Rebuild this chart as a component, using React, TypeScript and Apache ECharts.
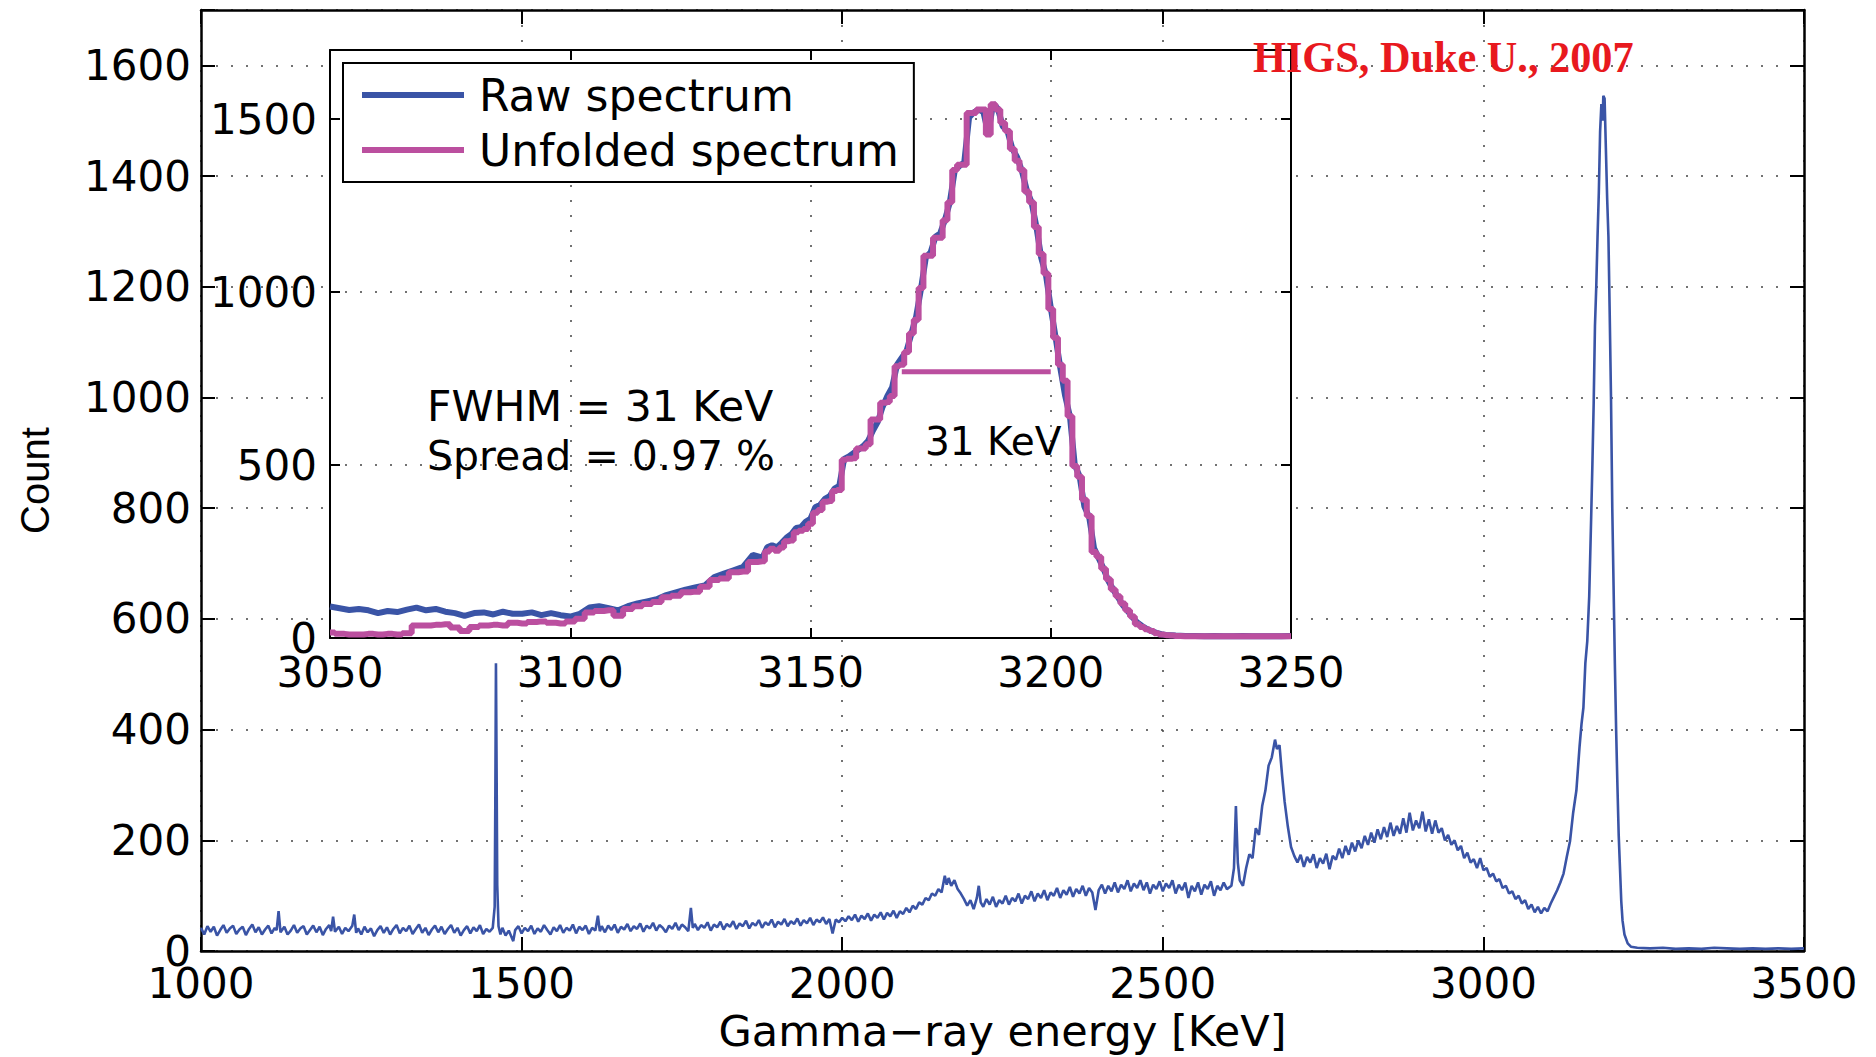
import React, { useEffect, useRef } from "react";
import * as echarts from "echarts";

// ---------------- Main spectrum (Energy keV, Count) ----------------
const mainBackground = [
  [1000, 42], [1005, 30], [1010, 45], [1015, 35], [1020, 44], [1025, 28], [1030, 38], [1035, 47],
  [1040, 33], [1045, 41], [1050, 46], [1055, 31], [1060, 39], [1065, 44], [1070, 29], [1075, 40],
  [1080, 48], [1085, 34], [1090, 43], [1095, 30], [1100, 39], [1105, 46], [1110, 32], [1115, 42],
  [1118, 38], [1121, 72], [1124, 34], [1130, 44], [1135, 30], [1140, 37], [1145, 47], [1150, 33],
  [1155, 41], [1160, 45], [1165, 30], [1170, 38], [1175, 46], [1180, 34], [1185, 44], [1190, 29],
  [1195, 40], [1200, 47], [1203, 36], [1206, 62], [1209, 35], [1215, 44], [1220, 31], [1225, 42],
  [1230, 36], [1236, 46], [1239, 66], [1242, 33], [1245, 41], [1250, 30], [1255, 44], [1260, 34],
  [1265, 41], [1270, 27], [1275, 38], [1280, 45], [1285, 33], [1290, 43], [1295, 30], [1300, 40],
  [1305, 47], [1310, 32], [1315, 42], [1320, 36], [1325, 46], [1330, 31], [1335, 40], [1340, 48],
  [1345, 33], [1350, 42], [1355, 29], [1360, 39], [1365, 46], [1370, 34], [1375, 44], [1380, 31],
  [1385, 40], [1390, 47], [1395, 33], [1400, 42], [1405, 28], [1410, 38], [1415, 45], [1420, 32],
  [1425, 43], [1430, 36], [1435, 47], [1440, 31], [1445, 40], [1450, 35], [1455, 42],
];
const mainLine1460 = [[1458, 80], [1459, 270], [1460, 520], [1461, 330], [1462, 120], [1464, 45]];
const mainMid = [
  [1467, 30], [1470, 42], [1475, 28], [1480, 37], [1487, 18], [1490, 38], [1495, 45], [1500, 32],
  [1505, 42], [1510, 36], [1515, 46], [1520, 31], [1525, 41], [1530, 35], [1535, 47], [1540, 38],
  [1545, 30], [1550, 43], [1555, 36], [1560, 47], [1565, 33], [1570, 42], [1575, 37], [1580, 48],
  [1585, 32], [1590, 44], [1595, 38], [1600, 46], [1605, 31], [1610, 42], [1615, 37], [1619, 64],
  [1622, 36], [1625, 45], [1630, 34], [1635, 46], [1640, 38], [1645, 48], [1650, 33], [1655, 44],
  [1660, 39], [1665, 49], [1670, 36], [1675, 45], [1680, 40], [1685, 50], [1690, 35], [1695, 46],
  [1700, 41], [1705, 51], [1710, 37], [1715, 47], [1720, 42], [1725, 34], [1730, 46], [1735, 40],
  [1740, 51], [1745, 38], [1750, 48], [1755, 43], [1760, 36], [1764, 78], [1767, 42], [1770, 49],
  [1775, 38], [1780, 47], [1785, 42], [1790, 52], [1795, 37], [1800, 48], [1805, 43], [1810, 53],
  [1815, 39], [1820, 49], [1825, 44], [1830, 54], [1835, 40], [1840, 50], [1845, 45], [1850, 55],
  [1855, 41], [1860, 51], [1865, 46], [1870, 56], [1875, 42], [1880, 52], [1885, 47], [1890, 57],
  [1895, 43], [1900, 53], [1905, 48], [1910, 58], [1915, 45], [1920, 54], [1925, 49], [1930, 59],
  [1935, 46], [1940, 56], [1945, 50], [1950, 60], [1955, 47], [1960, 57], [1965, 52], [1970, 61],
  [1975, 49], [1980, 58], [1985, 32], [1990, 57], [1995, 52], [2000, 60],
];
const mainCompton = [
  [2005, 54], [2010, 63], [2015, 56], [2020, 66], [2025, 53], [2030, 64], [2035, 58], [2040, 68],
  [2045, 55], [2050, 66], [2055, 60], [2060, 70], [2065, 57], [2070, 69], [2075, 63], [2080, 73],
  [2085, 60], [2090, 72], [2095, 67], [2100, 78], [2105, 70], [2110, 82], [2115, 76], [2120, 88],
  [2125, 84], [2130, 96], [2135, 92], [2140, 104], [2145, 100], [2150, 112], [2155, 106], [2160, 136],
  [2163, 120], [2166, 132], [2170, 118], [2175, 128], [2180, 112], [2185, 104], [2190, 94], [2195, 82],
  [2200, 92], [2205, 76], [2210, 96], [2213, 118], [2216, 88], [2220, 80], [2225, 94], [2230, 84],
  [2235, 98], [2240, 80], [2245, 92], [2250, 86], [2255, 100], [2260, 84], [2265, 96], [2270, 90],
  [2275, 104], [2280, 86], [2285, 100], [2290, 94], [2295, 108], [2300, 90], [2305, 104], [2310, 96],
  [2315, 110], [2320, 92], [2325, 106], [2330, 100], [2335, 114], [2340, 96], [2345, 110], [2350, 102],
  [2355, 116], [2360, 98], [2365, 112], [2370, 104], [2375, 118], [2380, 100], [2385, 114], [2390, 106],
  [2395, 74], [2400, 110], [2405, 120], [2410, 104], [2415, 118], [2420, 108], [2425, 124], [2430, 106],
  [2435, 120], [2440, 112], [2445, 128], [2450, 108], [2455, 122], [2460, 114], [2465, 128], [2470, 110],
  [2475, 124], [2480, 104], [2485, 120], [2490, 112], [2495, 126], [2500, 108], [2505, 122], [2510, 114],
  [2515, 128], [2520, 104], [2525, 120], [2530, 110], [2535, 124], [2540, 96], [2545, 118], [2550, 108],
  [2555, 124], [2560, 102], [2565, 120], [2570, 112], [2575, 126], [2580, 100], [2585, 118], [2590, 110],
  [2595, 124], [2600, 112],
];
const mainTl = [
  [2607, 118], [2611, 150], [2614, 262], [2617, 160], [2620, 128], [2625, 118], [2630, 150], [2635, 175],
  [2640, 168], [2645, 222], [2650, 210], [2655, 262], [2660, 290], [2665, 335], [2670, 350], [2675, 382],
  [2678, 365], [2682, 372], [2686, 318], [2690, 270], [2695, 225], [2700, 188], [2705, 172], [2710, 160],
  [2715, 174], [2720, 152],
];
const mainHump = [
  [2725, 170], [2730, 160], [2735, 175], [2740, 150], [2745, 168], [2750, 158], [2755, 176], [2760, 148],
  [2765, 172], [2770, 165], [2775, 185], [2780, 168], [2785, 190], [2790, 174], [2795, 196], [2800, 180],
  [2805, 200], [2810, 186], [2815, 208], [2820, 192], [2825, 214], [2830, 196], [2835, 220], [2840, 202],
  [2845, 224], [2850, 206], [2855, 232], [2860, 208], [2865, 226], [2870, 212], [2875, 240], [2880, 214],
  [2885, 250], [2890, 218], [2895, 236], [2900, 222], [2905, 252], [2910, 216], [2915, 238], [2920, 212],
  [2925, 236], [2930, 214], [2935, 222], [2940, 200], [2945, 210], [2950, 192], [2955, 200], [2960, 182],
  [2965, 190], [2970, 168], [2975, 178], [2980, 160], [2985, 166], [2990, 150], [2995, 168], [3000, 146],
  [3005, 150], [3010, 134], [3015, 140], [3020, 126], [3025, 130], [3030, 114], [3035, 118], [3040, 104],
  [3045, 108], [3050, 94], [3055, 100], [3060, 86], [3065, 92], [3070, 76], [3075, 84], [3080, 70],
  [3085, 80], [3090, 68], [3095, 78], [3100, 72],
];
const mainPeak = [
  [3105, 86], [3110, 98], [3115, 110], [3120, 124], [3125, 140], [3130, 170], [3135, 198], [3140, 250],
  [3145, 290], [3150, 370], [3153, 410], [3156, 440], [3159, 520], [3162, 560], [3165, 640], [3168, 780],
  [3170, 880], [3172, 990], [3174, 1130], [3176, 1200], [3178, 1290], [3180, 1370], [3182, 1480], [3184, 1530],
  [3186, 1500], [3187, 1545], [3189, 1540], [3191, 1450], [3193, 1360], [3195, 1290], [3197, 1150], [3199, 1000],
  [3201, 800], [3203, 660], [3205, 520], [3207, 400], [3209, 300], [3211, 210], [3213, 150], [3215, 90],
  [3217, 55], [3220, 30], [3225, 14], [3230, 8], [3240, 6], [3260, 5], [3280, 6], [3300, 4],
  [3320, 5], [3340, 4], [3360, 6], [3380, 5], [3400, 4], [3420, 5], [3440, 4], [3460, 5],
  [3480, 4], [3500, 5],
];

// ---------------- Inset (zoom on the 3.2 MeV peak) ----------------
const insetEnergyLow = [
  3050, 3052, 3054, 3056, 3058, 3060, 3062, 3064, 3066, 3068, 3070, 3072, 3074, 3076, 3078, 3080,
  3082, 3084, 3086, 3088, 3090, 3092, 3094, 3096, 3098, 3100, 3102, 3104, 3106, 3108, 3110, 3112,
  3114, 3116, 3118, 3120, 3122, 3124, 3126, 3128, 3130, 3132, 3134, 3136, 3138,
];
const insetEnergyPeak = [
  3140, 3141, 3142, 3143, 3144, 3145, 3146, 3147, 3148, 3149, 3150, 3151, 3152, 3153, 3154, 3155,
  3156, 3157, 3158, 3159, 3160, 3161, 3162, 3163, 3164, 3165, 3166, 3167, 3168, 3169, 3170, 3171,
  3172, 3173, 3174, 3175, 3176, 3177, 3178, 3179, 3180, 3181, 3182, 3183, 3184, 3185, 3186, 3187,
  3188, 3189, 3190, 3191, 3192, 3193, 3194, 3195, 3196, 3197, 3198, 3199, 3200, 3201, 3202, 3203,
  3204, 3205, 3206, 3207, 3208, 3209, 3210, 3211, 3212, 3213, 3214, 3215, 3216, 3217, 3218, 3219,
  3220, 3221, 3222, 3223, 3224, 3225,
];
const insetEnergyHigh = [3226, 3228, 3230, 3232, 3234, 3236, 3238, 3240, 3242, 3244, 3246, 3248, 3250];

const insetRaw = [
  91, 86, 81, 84, 80, 72, 78, 75, 82, 88, 80, 84, 76, 72, 64, 72, 74, 68, 76, 70, 70, 74, 66, 72, 66, 62,
  70, 88, 92, 86, 80, 92, 100, 106, 112, 124, 132, 140, 146, 152, 176, 186, 196, 206, 240,
  232, 262, 268, 262, 275, 290, 300, 318, 320, 336,
  345, 378, 385, 402, 410, 432, 440, 518, 525, 535,
  545, 555, 570, 600, 625, 668, 700, 725, 790, 810,
  830, 880, 930, 1010, 1100, 1115, 1160, 1170, 1210, 1260,
  1350, 1365, 1375, 1505, 1520, 1528, 1520, 1458, 1545, 1530,
  1480, 1465, 1415, 1390, 1350, 1295, 1260, 1190, 1100, 1050,
  955, 870, 780, 700, 640, 500, 468, 380, 350, 260,
  230, 200, 165, 140, 118, 95, 78, 60, 45, 35,
  26, 20, 15, 11, 9, 8,
  7, 6, 6, 5, 6, 5, 5, 6, 5, 5, 5, 5, 6,
];
const insetUnfolded = [
  16, 12, 10, 10, 12, 10, 12, 10, 14, 36, 36, 38, 40, 30, 20, 32, 36, 38, 36, 44, 42, 46, 48, 44, 42, 48,
  56, 74, 78, 80, 64, 84, 92, 98, 104, 118, 122, 132, 134, 148, 168, 172, 190, 192, 220,
  222, 250, 258, 252, 262, 280, 282, 306, 310, 315,
  330, 362, 370, 394, 396, 425, 428, 515, 518, 520,
  548, 548, 560, 632, 632, 680, 682, 700, 786, 790,
  827, 880, 920, 1012, 1105, 1105, 1157, 1157, 1208, 1260,
  1353, 1368, 1368, 1518, 1518, 1528, 1528, 1456, 1543, 1528,
  1490, 1466, 1414, 1380, 1353, 1291, 1260, 1188, 1110, 1054,
  951, 868, 790, 744, 641, 497, 466, 400, 353, 249,
  235, 200, 170, 140, 121, 100, 80, 62, 40, 32,
  25, 20, 14, 10, 8, 7,
  6, 5, 5, 5, 5, 5, 5, 5, 5, 5, 5, 5, 5,
];
const fwhmLine = [[3169, 770], [3200, 770]];

const seriesNames = ["Raw spectrum", "Unfolded spectrum"];
const annotationTexts = ["FWHM = 31 KeV", "Spread = 0.97 %", "31 KeV", "HIGS, Duke U., 2007"];

const BLUE = "#3a54a6";
const MAGENTA = "#bb4f9f";
const FONT = "DejaVu Sans";

const dotted = { show: true, lineStyle: { color: "#444", width: 1.5, type: [2, 13] as any } };
const frameLine = (w: number) => ({ show: true, onZero: false, lineStyle: { color: "#000", width: w } });
const ticks = (len: number) => ({ show: true, inside: true, length: len, lineStyle: { color: "#000", width: 2 } });
const tickLabel = { color: "#000", fontSize: 42, fontFamily: FONT, lineHeight: 28 };
const plain = (v: number) => String(v);

function buildOption() {
  const mainData = [
    ...mainBackground, ...mainLine1460, ...mainMid, ...mainCompton, ...mainTl, ...mainHump, ...mainPeak,
  ];
  const insetEnergy = [...insetEnergyLow, ...insetEnergyPeak, ...insetEnergyHigh];
  const rawData = insetEnergy.map((e, i) => [e, insetRaw[i]]);
  const unfData = insetEnergy.map((e, i) => [e, insetUnfolded[i]]);

  return {
    animation: false,
    backgroundColor: "#fff",
    grid: [
      { left: 201, top: 10, width: 1603, height: 951, show: false, z: 0 },
      { left: 330, top: 50, width: 961, height: 588, show: true, backgroundColor: "#fff", borderWidth: 0, z: 3 },
    ],
    legend: {
      data: seriesNames,
      left: 343,
      top: 63,
      orient: "vertical",
      icon: "rect",
      itemWidth: 102,
      itemHeight: 6,
      itemGap: 11,
      padding: [10, 15, 10, 19],
      borderColor: "#000",
      borderWidth: 2,
      backgroundColor: "#fff",
      z: 10,
      textStyle: { color: "#000", fontSize: 44, fontFamily: FONT, padding: [0, 0, 0, 10] },
    },
    xAxis: [
      {
        gridIndex: 0, type: "value", min: 1000, max: 3500, interval: 500, position: "bottom",
        axisLine: frameLine(2.5), axisTick: ticks(14), splitLine: dotted,
        axisLabel: { ...tickLabel, margin: 18, formatter: plain },
        name: "Gamma\u2212ray energy [KeV]", nameLocation: "middle", nameGap: 52,
        nameTextStyle: { color: "#000", fontSize: 43, fontFamily: FONT },
      },
      {
        gridIndex: 0, type: "value", min: 1000, max: 3500, interval: 500, position: "top",
        axisLine: frameLine(2.5), axisTick: ticks(14), splitLine: { show: false }, axisLabel: { show: false },
      },
      {
        gridIndex: 1, type: "value", min: 3050, max: 3250, interval: 50, position: "bottom", z: 4,
        axisLine: frameLine(2), axisTick: ticks(10), splitLine: dotted,
        axisLabel: { ...tickLabel, margin: 20, formatter: plain },
      },
      {
        gridIndex: 1, type: "value", min: 3050, max: 3250, interval: 50, position: "top", z: 4,
        axisLine: frameLine(2), axisTick: ticks(10), splitLine: { show: false }, axisLabel: { show: false },
      },
    ],
    yAxis: [
      {
        gridIndex: 0, type: "value", min: 0, max: 1700, interval: 200, position: "left",
        axisLine: frameLine(2.5), axisTick: ticks(14), splitLine: dotted,
        axisLabel: { ...tickLabel, margin: 10, formatter: (v: number) => (v % 200 === 0 ? String(v) : "") },
        name: "Count", nameLocation: "middle", nameGap: 146, nameRotate: 90,
        nameTextStyle: { color: "#000", fontSize: 40, fontFamily: "Liberation Sans" },
      },
      {
        gridIndex: 0, type: "value", min: 0, max: 1700, interval: 200, position: "right",
        axisLine: frameLine(2.5), axisTick: ticks(14), splitLine: { show: false }, axisLabel: { show: false },
      },
      {
        gridIndex: 1, type: "value", min: 0, max: 1700, interval: 500, position: "left", z: 4,
        axisLine: frameLine(2), axisTick: ticks(10), splitLine: dotted,
        axisLabel: { ...tickLabel, margin: 13, formatter: (v: number) => (v % 500 === 0 ? String(v) : "") },
      },
      {
        gridIndex: 1, type: "value", min: 0, max: 1700, interval: 500, position: "right", z: 4,
        axisLine: frameLine(2), axisTick: ticks(10), splitLine: { show: false }, axisLabel: { show: false },
      },
    ],
    series: [
      {
        name: "main", type: "line", xAxisIndex: 0, yAxisIndex: 0, data: mainData,
        symbol: "none", showSymbol: false, z: 2,
        lineStyle: { color: BLUE, width: 2.6 }, itemStyle: { color: BLUE },
      },
      {
        name: seriesNames[0], type: "line", xAxisIndex: 2, yAxisIndex: 2, data: rawData,
        symbol: "none", showSymbol: false, z: 5,
        lineStyle: { color: BLUE, width: 6 }, itemStyle: { color: BLUE },
      },
      {
        name: seriesNames[1], type: "line", xAxisIndex: 2, yAxisIndex: 2, data: unfData, step: "middle",
        symbol: "none", showSymbol: false, z: 6,
        lineStyle: { color: MAGENTA, width: 6 }, itemStyle: { color: MAGENTA },
      },
      {
        name: "fwhm", type: "line", xAxisIndex: 2, yAxisIndex: 2, data: fwhmLine,
        symbol: "none", showSymbol: false, z: 6,
        lineStyle: { color: MAGENTA, width: 5 }, itemStyle: { color: MAGENTA },
      },
    ],
    graphic: [
      {
        type: "text", x: 427, y: 406, z: 100,
        style: { text: annotationTexts[0], fill: "#000", fontSize: 42.5, fontFamily: FONT, verticalAlign: "middle" },
      },
      {
        type: "text", x: 427, y: 456, z: 100,
        style: { text: annotationTexts[1], fill: "#000", fontSize: 41, fontFamily: FONT, verticalAlign: "middle" },
      },
      {
        type: "text", x: 925, y: 441, z: 100,
        style: { text: annotationTexts[2], fill: "#000", fontSize: 39, fontFamily: FONT, verticalAlign: "middle" },
      },
      {
        type: "text", x: 1253, y: 57, z: 100, scaleX: 0.94,
        style: {
          text: annotationTexts[3], fill: "#e8191e", fontSize: 45, fontWeight: "bold",
          fontFamily: "Liberation Serif", verticalAlign: "middle",
        },
      },
    ],
  };
}

export default function App() {
  const ref = useRef<HTMLDivElement>(null);
  useEffect(() => {
    if (!ref.current) return;
    const chart = echarts.init(ref.current, null, { renderer: "svg" });
    chart.setOption(buildOption() as any);
    return () => chart.dispose();
  }, []);
  return (
    <div
      ref={ref}
      style={{ position: "fixed", left: 0, top: 0, width: 1876, height: 1057, background: "#fff" }}
    />
  );
}
